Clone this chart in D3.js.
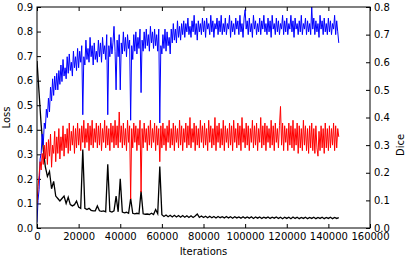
<html>
    <head>
        <style>
        body {
            margin: 0;
            background: white;
        }
        svg {
            font-family: "DejaVu Sans", sans-serif;
        }
        .axis text {
            font-family: "DejaVu Sans", sans-serif;
            font-size: 10px;
            fill: #000;
        }
        .axis .domain {
            display: none;
        }
        .axis .tick line {
            stroke: #000;
        }
        </style>
    </head>
    <body>
        <div id="plot"></div>
        <script src="https://d3js.org/d3.v7.min.js"></script>
        <script>

            // loss is logged every 1000 iterations
            let lossIterations = [
                0, 1000, 2000, 3000, 4000, 5000, 6000, 7000, 8000, 9000,
                10000, 11000, 12000, 13000, 14000, 15000, 16000, 17000, 18000, 19000,
                20000, 21000, 22000, 23000, 24000, 25000, 26000, 27000, 28000, 29000,
                30000, 31000, 32000, 33000, 34000, 35000, 36000, 37000, 38000, 39000,
                40000, 41000, 42000, 43000, 44000, 45000, 46000, 47000, 48000, 49000,
                50000, 51000, 52000, 53000, 54000, 55000, 56000, 57000, 58000, 59000,
                60000, 61000, 62000, 63000, 64000, 65000, 66000, 67000, 68000, 69000,
                70000, 71000, 72000, 73000, 74000, 75000, 76000, 77000, 78000, 79000,
                80000, 81000, 82000, 83000, 84000, 85000, 86000, 87000, 88000, 89000,
                90000, 91000, 92000, 93000, 94000, 95000, 96000, 97000, 98000, 99000,
                100000, 101000, 102000, 103000, 104000, 105000, 106000, 107000, 108000, 109000,
                110000, 111000, 112000, 113000, 114000, 115000, 116000, 117000, 118000, 119000,
                120000, 121000, 122000, 123000, 124000, 125000, 126000, 127000, 128000, 129000,
                130000, 131000, 132000, 133000, 134000, 135000, 136000, 137000, 138000, 139000,
                140000, 141000, 142000, 143000, 144000, 145000
            ]

            // loss (left axis)
            let loss = [
                0.68, 0.55, 0.42, 0.32, 0.25, 0.21, 0.23, 0.16, 0.19, 0.13,
                0.12, 0.11, 0.12, 0.13, 0.10, 0.125, 0.095, 0.09, 0.095, 0.11,
                0.085, 0.08, 0.32, 0.08, 0.075, 0.08, 0.072, 0.07, 0.07, 0.09,
                0.07, 0.068, 0.07, 0.066, 0.26, 0.068, 0.065, 0.07, 0.13, 0.066,
                0.2, 0.065, 0.062, 0.064, 0.06, 0.12, 0.06, 0.058, 0.06, 0.058,
                0.15, 0.058, 0.056, 0.057, 0.055, 0.06, 0.055, 0.075, 0.058, 0.25,
                0.054, 0.047, 0.053, 0.046, 0.052, 0.045, 0.052, 0.045, 0.051, 0.044,
                0.051, 0.044, 0.050, 0.043, 0.050, 0.043, 0.049, 0.057, 0.043, 0.049,
                0.043, 0.048, 0.042, 0.048, 0.042, 0.047, 0.041, 0.047, 0.042, 0.046,
                0.041, 0.047, 0.041, 0.046, 0.040, 0.046, 0.041, 0.045, 0.040, 0.046,
                0.040, 0.045, 0.040, 0.046, 0.039, 0.045, 0.040, 0.045, 0.039, 0.044,
                0.040, 0.045, 0.039, 0.044, 0.040, 0.045, 0.039, 0.044, 0.038, 0.044,
                0.039, 0.044, 0.038, 0.045, 0.039, 0.044, 0.038, 0.043, 0.039, 0.044,
                0.038, 0.043, 0.039, 0.044, 0.038, 0.043, 0.039, 0.044, 0.038, 0.043,
                0.039, 0.044, 0.038, 0.043, 0.039, 0.042
            ]

            // dice is logged every 500 iterations
            let diceIterations = [
                0, 500, 1000, 1500, 2000, 2500, 3000, 3500, 4000, 4500,
                5000, 5500, 6000, 6500, 7000, 7500, 8000, 8500, 9000, 9500,
                10000, 10500, 11000, 11500, 12000, 12500, 13000, 13500, 14000, 14500,
                15000, 15500, 16000, 16500, 17000, 17500, 18000, 18500, 19000, 19500,
                20000, 20500, 21000, 21500, 22000, 22500, 23000, 23500, 24000, 24500,
                25000, 25500, 26000, 26500, 27000, 27500, 28000, 28500, 29000, 29500,
                30000, 30500, 31000, 31500, 32000, 32500, 33000, 33500, 34000, 34500,
                35000, 35500, 36000, 36500, 37000, 37500, 38000, 38500, 39000, 39500,
                40000, 40500, 41000, 41500, 42000, 42500, 43000, 43500, 44000, 44500,
                45000, 45500, 46000, 46500, 47000, 47500, 48000, 48500, 49000, 49500,
                50000, 50500, 51000, 51500, 52000, 52500, 53000, 53500, 54000, 54500,
                55000, 55500, 56000, 56500, 57000, 57500, 58000, 58500, 59000, 59500,
                60000, 60500, 61000, 61500, 62000, 62500, 63000, 63500, 64000, 64500,
                65000, 65500, 66000, 66500, 67000, 67500, 68000, 68500, 69000, 69500,
                70000, 70500, 71000, 71500, 72000, 72500, 73000, 73500, 74000, 74500,
                75000, 75500, 76000, 76500, 77000, 77500, 78000, 78500, 79000, 79500,
                80000, 80500, 81000, 81500, 82000, 82500, 83000, 83500, 84000, 84500,
                85000, 85500, 86000, 86500, 87000, 87500, 88000, 88500, 89000, 89500,
                90000, 90500, 91000, 91500, 92000, 92500, 93000, 93500, 94000, 94500,
                95000, 95500, 96000, 96500, 97000, 97500, 98000, 98500, 99000, 99500,
                100000, 100500, 101000, 101500, 102000, 102500, 103000, 103500, 104000, 104500,
                105000, 105500, 106000, 106500, 107000, 107500, 108000, 108500, 109000, 109500,
                110000, 110500, 111000, 111500, 112000, 112500, 113000, 113500, 114000, 114500,
                115000, 115500, 116000, 116500, 117000, 117500, 118000, 118500, 119000, 119500,
                120000, 120500, 121000, 121500, 122000, 122500, 123000, 123500, 124000, 124500,
                125000, 125500, 126000, 126500, 127000, 127500, 128000, 128500, 129000, 129500,
                130000, 130500, 131000, 131500, 132000, 132500, 133000, 133500, 134000, 134500,
                135000, 135500, 136000, 136500, 137000, 137500, 138000, 138500, 139000, 139500,
                140000, 140500, 141000, 141500, 142000, 142500, 143000, 143500, 144000, 144500,
                145000
            ]

            // dice, blue series (right axis)
            let diceBlue = [
                0.02, 0.10, 0.14, 0.25, 0.27, 0.34, 0.30, 0.38, 0.36, 0.43, 0.40, 0.47, 0.42, 0.51, 0.46, 0.54, 0.48, 0.55, 0.50, 0.56,
                0.50, 0.57, 0.52, 0.59, 0.53, 0.61, 0.55, 0.58, 0.54, 0.62, 0.56, 0.63, 0.57, 0.60, 0.55, 0.64, 0.58, 0.62, 0.57, 0.65,
                0.58, 0.64, 0.60, 0.66, 0.41, 0.62, 0.59, 0.68, 0.61, 0.65, 0.60, 0.69, 0.62, 0.66, 0.59, 0.67, 0.61, 0.64, 0.60, 0.68,
                0.62, 0.67, 0.60, 0.69, 0.63, 0.66, 0.61, 0.70, 0.41, 0.66, 0.62, 0.69, 0.63, 0.67, 0.73, 0.64, 0.50, 0.68, 0.62, 0.70,
                0.50, 0.67, 0.63, 0.71, 0.64, 0.69, 0.62, 0.70, 0.65, 0.68, 0.39, 0.66, 0.61, 0.70, 0.64, 0.71, 0.63, 0.69, 0.65, 0.72,
                0.49, 0.68, 0.64, 0.71, 0.65, 0.72, 0.66, 0.70, 0.64, 0.73, 0.67, 0.71, 0.65, 0.72, 0.66, 0.70, 0.64, 0.72, 0.38, 0.66,
                0.63, 0.70, 0.65, 0.72, 0.64, 0.71, 0.66, 0.69, 0.63, 0.72, 0.67, 0.74, 0.68, 0.72, 0.67, 0.75, 0.69, 0.73, 0.68, 0.74,
                0.70, 0.75, 0.69, 0.74, 0.71, 0.76, 0.70, 0.73, 0.69, 0.75, 0.71, 0.77, 0.70, 0.74, 0.68, 0.75, 0.71, 0.74, 0.70, 0.76,
                0.71, 0.75, 0.69, 0.76, 0.72, 0.74, 0.70, 0.77, 0.71, 0.75, 0.69, 0.74, 0.72, 0.76, 0.70, 0.75, 0.71, 0.77, 0.70, 0.74,
                0.71, 0.76, 0.70, 0.74, 0.72, 0.77, 0.69, 0.75, 0.71, 0.74, 0.70, 0.76, 0.72, 0.75, 0.70, 0.77, 0.71, 0.74, 0.69, 0.76,
                0.79, 0.72, 0.75, 0.70, 0.76, 0.71, 0.74, 0.69, 0.77, 0.72, 0.75, 0.70, 0.74, 0.71, 0.76, 0.70, 0.75, 0.72, 0.77, 0.71,
                0.74, 0.70, 0.76, 0.71, 0.75, 0.69, 0.77, 0.72, 0.74, 0.70, 0.76, 0.71, 0.75, 0.70, 0.74, 0.72, 0.77, 0.70, 0.75, 0.71,
                0.76, 0.70, 0.74, 0.72, 0.77, 0.71, 0.75, 0.69, 0.76, 0.72, 0.74, 0.70, 0.75, 0.71, 0.77, 0.70, 0.74, 0.72, 0.76, 0.70,
                0.75, 0.71, 0.74, 0.70, 0.80, 0.72, 0.76, 0.70, 0.75, 0.71, 0.74, 0.69, 0.77, 0.72, 0.75, 0.70, 0.76, 0.71, 0.74, 0.70,
                0.76, 0.71, 0.75, 0.70, 0.74, 0.72, 0.77, 0.70, 0.75, 0.71, 0.67
            ]

            // dice, red series (right axis)
            let diceRed = [
                0.09, 0.15, 0.19, 0.24, 0.21, 0.27, 0.23, 0.30, 0.25, 0.31, 0.23, 0.32, 0.26, 0.34, 0.22, 0.30, 0.27, 0.35, 0.24, 0.33,
                0.27, 0.36, 0.25, 0.33, 0.28, 0.37, 0.26, 0.34, 0.29, 0.36, 0.27, 0.38, 0.28, 0.35, 0.30, 0.37, 0.27, 0.36, 0.29, 0.38,
                0.30, 0.36, 0.28, 0.37, 0.31, 0.39, 0.29, 0.36, 0.31, 0.38, 0.28, 0.37, 0.30, 0.39, 0.29, 0.36, 0.31, 0.38, 0.29, 0.37,
                0.30, 0.38, 0.28, 0.36, 0.31, 0.39, 0.29, 0.37, 0.30, 0.36, 0.28, 0.38, 0.31, 0.37, 0.29, 0.39, 0.30, 0.37, 0.29, 0.42,
                0.31, 0.37, 0.29, 0.38, 0.30, 0.36, 0.28, 0.39, 0.31, 0.37, 0.105, 0.36, 0.29, 0.38, 0.31, 0.37, 0.28, 0.36, 0.30, 0.39,
                0.13, 0.36, 0.29, 0.38, 0.31, 0.36, 0.28, 0.37, 0.30, 0.39, 0.29, 0.36, 0.31, 0.38, 0.28, 0.37, 0.30, 0.36, 0.24, 0.37,
                0.29, 0.38, 0.30, 0.36, 0.28, 0.37, 0.31, 0.39, 0.29, 0.36, 0.30, 0.38, 0.28, 0.37, 0.31, 0.36, 0.29, 0.39, 0.30, 0.37,
                0.28, 0.36, 0.31, 0.38, 0.29, 0.37, 0.30, 0.40, 0.29, 0.36, 0.31, 0.38, 0.28, 0.37, 0.30, 0.36, 0.29, 0.39, 0.31, 0.37,
                0.29, 0.38, 0.30, 0.36, 0.28, 0.39, 0.31, 0.37, 0.29, 0.36, 0.30, 0.40, 0.28, 0.37, 0.31, 0.38, 0.29, 0.36, 0.30, 0.39,
                0.28, 0.37, 0.31, 0.36, 0.29, 0.38, 0.30, 0.37, 0.28, 0.39, 0.31, 0.36, 0.29, 0.38, 0.30, 0.37, 0.28, 0.40, 0.31, 0.36,
                0.29, 0.38, 0.30, 0.37, 0.28, 0.36, 0.31, 0.39, 0.29, 0.37, 0.30, 0.38, 0.28, 0.36, 0.31, 0.40, 0.29, 0.37, 0.30, 0.38,
                0.28, 0.37, 0.31, 0.36, 0.29, 0.39, 0.30, 0.37, 0.28, 0.38, 0.31, 0.36, 0.29, 0.37, 0.44, 0.30, 0.38, 0.28, 0.37, 0.31,
                0.36, 0.28, 0.38, 0.30, 0.37, 0.29, 0.39, 0.28, 0.36, 0.30, 0.38, 0.27, 0.37, 0.29, 0.36, 0.28, 0.39, 0.30, 0.37, 0.28,
                0.36, 0.27, 0.37, 0.29, 0.38, 0.28, 0.36, 0.27, 0.37, 0.29, 0.26, 0.35, 0.28, 0.37, 0.29, 0.36, 0.27, 0.38, 0.29, 0.36,
                0.28, 0.37, 0.29, 0.36, 0.30, 0.38, 0.28, 0.37, 0.29, 0.36, 0.33
            ]

            let xTicks = [0, 20000, 40000, 60000, 80000, 100000, 120000, 140000, 160000]
            let lossTicks = [0.0, 0.1, 0.2, 0.3, 0.4, 0.5, 0.6, 0.7, 0.8, 0.9]
            let diceTicks = [0.0, 0.1, 0.2, 0.3, 0.4, 0.5, 0.6, 0.7, 0.8]

            let width = 410
            let height = 260
            let margin = {top: 7, right: 40, bottom: 32, left: 37}

            let svg = d3.select("#plot")
                .append("svg")
                .attr("width", width)
                .attr("height", height)

            let x = d3.scaleLinear()
                .domain([0, 160000])
                .range([margin.left, width - margin.right])

            let yLoss = d3.scaleLinear()
                .domain([0, 0.9])
                .range([height - margin.bottom, margin.top])

            let yDice = d3.scaleLinear()
                .domain([0, 0.8])
                .range([height - margin.bottom, margin.top])

            svg.append("clipPath")
                .attr("id", "clip")
                .append("rect")
                .attr("x", margin.left)
                .attr("y", margin.top)
                .attr("width", width - margin.left - margin.right)
                .attr("height", height - margin.top - margin.bottom)

            // ticks point inward, like the old matplotlib style
            svg.append("g")
                .attr("class", "x axis")
                .attr("transform", `translate(0, ${height - margin.bottom})`)
                .call(d3.axisBottom(x).tickValues(xTicks).tickFormat(d3.format("d"))
                    .tickSizeInner(-4).tickSizeOuter(0).tickPadding(5))

            svg.append("g")
                .attr("class", "x axis")
                .attr("transform", `translate(0, ${margin.top})`)
                .call(d3.axisTop(x).tickValues(xTicks).tickFormat("")
                    .tickSizeInner(-4).tickSizeOuter(0))

            svg.append("g")
                .attr("class", "y axis")
                .attr("transform", `translate(${margin.left}, 0)`)
                .call(d3.axisLeft(yLoss).tickValues(lossTicks).tickFormat(d3.format(".1f"))
                    .tickSizeInner(-4).tickSizeOuter(0).tickPadding(4))

            svg.append("g")
                .attr("class", "y axis")
                .attr("transform", `translate(${width - margin.right}, 0)`)
                .call(d3.axisRight(yDice).tickValues(diceTicks).tickFormat(d3.format(".1f"))
                    .tickSizeInner(-4).tickSizeOuter(0).tickPadding(4))

            let lines = svg.append("g").attr("clip-path", "url(#clip)")

            let lossLine = d3.line()
                .x((d, i) => x(lossIterations[i]))
                .y(d => yLoss(d))

            let diceLine = d3.line()
                .x((d, i) => x(diceIterations[i]))
                .y(d => yDice(d))

            lines.append("path")
                .datum(loss)
                .attr("d", lossLine)
                .attr("fill", "none")
                .attr("stroke", "#000000")
                .attr("stroke-width", 1.3)

            lines.append("path")
                .datum(diceBlue)
                .attr("d", diceLine)
                .attr("fill", "none")
                .attr("stroke", "#0000ff")
                .attr("stroke-width", 1)

            lines.append("path")
                .datum(diceRed)
                .attr("d", diceLine)
                .attr("fill", "none")
                .attr("stroke", "#ff0000")
                .attr("stroke-width", 1)

            // frame
            svg.append("rect")
                .attr("x", margin.left)
                .attr("y", margin.top)
                .attr("width", width - margin.left - margin.right)
                .attr("height", height - margin.top - margin.bottom)
                .attr("fill", "none")
                .attr("stroke", "#000")
                .attr("stroke-width", 1)

            svg.append("text")
                .attr("x", (margin.left + width - margin.right) / 2)
                .attr("y", 255)
                .attr("text-anchor", "middle")
                .style("font-size", "10px")
                .text("Iterations")

            svg.append("text")
                .attr("transform", `translate(10, ${(margin.top + height - margin.bottom) / 2}) rotate(-90)`)
                .attr("text-anchor", "middle")
                .style("font-size", "10px")
                .text("Loss")

            svg.append("text")
                .attr("transform", `translate(404, 145) rotate(-90)`)
                .attr("text-anchor", "middle")
                .style("font-size", "10px")
                .text("Dice")

        </script>
    </body>
</html>
